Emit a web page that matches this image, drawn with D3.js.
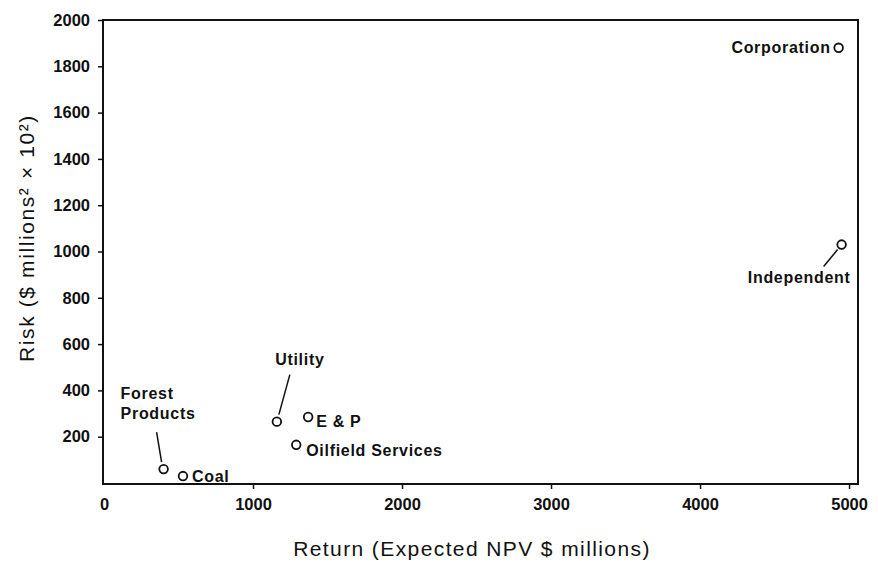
<!DOCTYPE html>
<html><head><meta charset="utf-8">
<script src="https://cdn.jsdelivr.net/npm/d3@7"></script>
<style>
body{margin:0;background:#fff;}
text{font-family:"Liberation Sans",Arial,Helvetica,sans-serif;fill:#111;}
</style></head>
<body><svg id="c" width="878" height="563"></svg>
<script>
const names = ["Corporation","Independent","Forest Products","Coal","Utility","E & P","Oilfield Services"];
const returns = [4930, 4950, 400, 530, 1160, 1370, 1290];
const risks = [1880, 1030, 60, 30, 265, 285, 165];
const xTicks = [0, 1000, 2000, 3000, 4000, 5000];
const yTicks = [200, 400, 600, 800, 1000, 1200, 1400, 1600, 1800, 2000];
const xTitle = "Return (Expected NPV $ millions)";
const yTitle = "Risk ($ millions\u00B2 \u00D7 10\u00B2)";
// label layout: offsets in pixels from the point; leader = [x1,y1,x2,y2] offsets
const labelLayout = [
  {dx:-8, dy:5, anchor:"end", leader:null},
  {dx:9, dy:38, anchor:"end", leader:[-18,22,-4,5]},
  {dx:-43, dy:-70, anchor:"start", leader:[-7,-37,-2,-7], lines:["Forest","Products"]},
  {dx:9, dy:6, anchor:"start", leader:null},
  {dx:23, dy:-57, anchor:"middle", leader:[13,-47,2,-7]},
  {dx:8, dy:10, anchor:"start", leader:null},
  {dx:10, dy:11, anchor:"start", leader:null}
];

const svg = d3.select("#c");
const x = d3.scaleLinear().domain([0, 5060]).range([104, 858]);
const y = d3.scaleLinear().domain([0, 2000]).range([483, 20]);
const x0 = 103, x1 = 858, y0 = 484, y1 = 20;

// frame
svg.append("rect").attr("x", x0).attr("y", y1).attr("width", x1 - x0).attr("height", y0 - y1)
  .attr("fill","none").attr("stroke","#111").attr("stroke-width",2);

// x axis
const xa = svg.append("g").attr("transform",`translate(0,${y0})`)
  .call(d3.axisBottom(x).tickValues(xTicks).tickSize(5).tickPadding(9).tickFormat(d3.format("d")));
xa.select(".domain").remove();
xa.selectAll("line").attr("stroke","#111").attr("stroke-width",1.5);
xa.selectAll("line").filter(d=>d===0).remove();
xa.selectAll("text").attr("font-size","16.5px").attr("font-weight","bold").attr("fill","#111");

// y axis
const ya = svg.append("g").attr("transform",`translate(${x0},0)`)
  .call(d3.axisLeft(y).tickValues(yTicks).tickSize(5).tickPadding(8).tickFormat(d3.format("d")));
ya.select(".domain").remove();
ya.selectAll("line").attr("stroke","#111").attr("stroke-width",1.5);
ya.selectAll("text").attr("font-size","16.5px").attr("font-weight","bold").attr("fill","#111");

// titles
svg.append("text").attr("x", 472).attr("y", 556).attr("text-anchor","middle")
  .attr("font-size","21px").attr("letter-spacing","1.4px").text(xTitle);
svg.append("text").attr("transform","translate(34,238) rotate(-90)").attr("text-anchor","middle")
  .attr("font-size","21px").attr("letter-spacing","1.6px").text(yTitle);

// points
const pts = names.map((n,i)=>({name:n, x:returns[i], y:risks[i], l:labelLayout[i]}));
svg.append("g").selectAll("circle").data(pts).join("circle")
  .attr("cx", d=>x(d.x)).attr("cy", d=>y(d.y)).attr("r",4.3)
  .attr("fill","#fff").attr("stroke","#111").attr("stroke-width",1.8);

// leaders
svg.append("g").selectAll("line").data(pts.filter(d=>d.l.leader)).join("line")
  .attr("x1", d=>x(d.x)+d.l.leader[0]).attr("y1", d=>y(d.y)+d.l.leader[1])
  .attr("x2", d=>x(d.x)+d.l.leader[2]).attr("y2", d=>y(d.y)+d.l.leader[3])
  .attr("stroke","#111").attr("stroke-width",1.5);

// labels
const lbl = svg.append("g").selectAll("text").data(pts).join("text")
  .attr("x", d=>x(d.x)+d.l.dx).attr("y", d=>y(d.y)+d.l.dy)
  .attr("text-anchor", d=>d.l.anchor)
  .attr("font-size","16px").attr("font-weight","bold").attr("letter-spacing","0.7px");
lbl.each(function(d){
  const t = d3.select(this);
  const lines = d.l.lines || [d.name];
  lines.forEach((s,k)=>t.append("tspan").attr("x", x(d.x)+d.l.dx).attr("dy", k?20:0).text(s));
});
</script></body></html>
